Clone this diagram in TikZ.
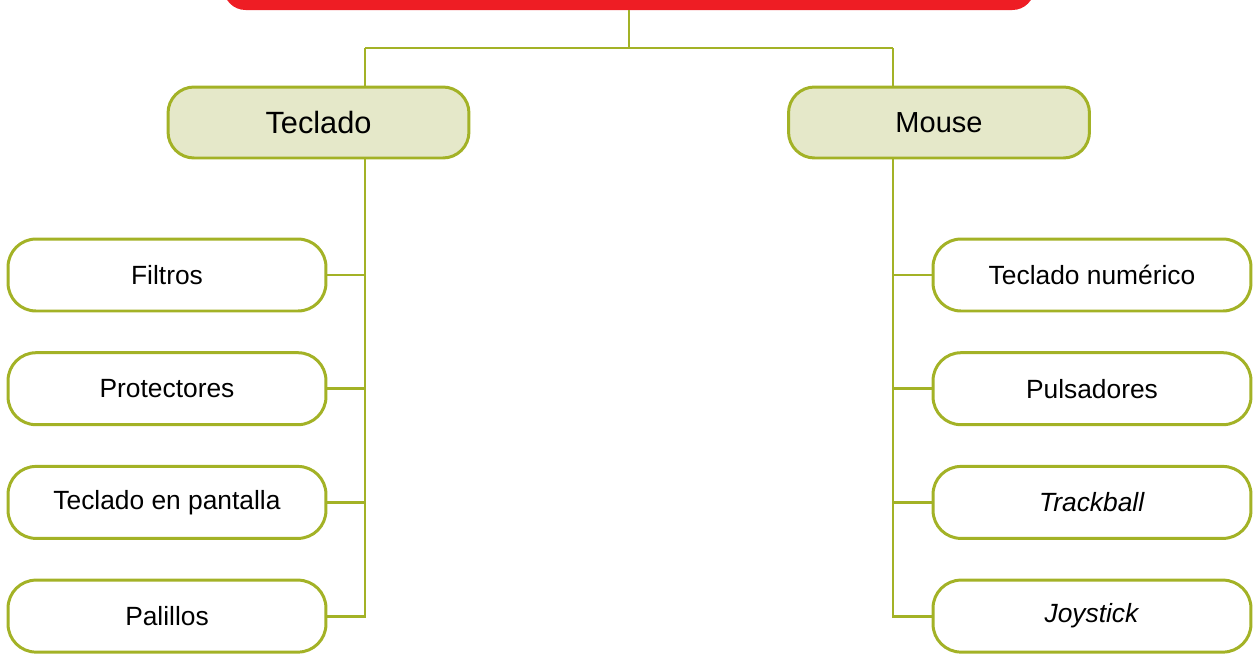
\documentclass[tikz,border=0pt]{standalone}
\usepackage{fontspec}
\setmainfont{Liberation Sans}
\definecolor{oliva}{RGB}{163,178,38}
\definecolor{olivaclaro}{RGB}{229,232,201}
\definecolor{rojo}{RGB}{238,29,36}
\tikzset{
	raiz/.style={draw=none, fill=rojo, rounded corners=0.44cm, minimum width=16.22cm, minimum height=1.44cm},
	rama/.style={draw=oliva, line width=1.7pt, fill=olivaclaro, rounded corners=0.52cm, minimum width=6.02cm, minimum height=1.42cm},
	hoja/.style={draw=oliva, line width=1.7pt, fill=white, rounded corners=0.56cm, minimum width=6.36cm, minimum height=1.44cm, font=\fontsize{15}{18}\selectfont},
	conector/.style={draw=oliva, line width=1.6pt}
}
\begin{document}
\begin{tikzpicture}[x=0.02cm, y=-0.02cm]
	\useasboundingbox (0,0) rectangle (1259,654);
	\clip (0,0) rectangle (1259,654);
	\node[raiz] (titulo) at (629,-26) {};
	\node[rama, font=\fontsize{17.5}{21}\selectfont] (teclado) at (318.5,122.5) {Teclado};
	\node[rama, font=\fontsize{16.5}{20}\selectfont] (mouse) at (939,122.5) {Mouse};
	\coordinate (ejeT) at (365,48);
	\coordinate (ejeM) at (893,48);
	\draw[conector] (titulo.south) -- (titulo.south |- ejeT);
	\draw[conector] (ejeT) -- (ejeM);
	\draw[conector] (ejeT) -- (ejeT |- teclado.north);
	\draw[conector] (ejeM) -- (ejeM |- mouse.north);
	\foreach \t [count=\i] in {Filtros, Protectores, Teclado en pantalla, Palillos}{
		\node[hoja] (izq\i) at (167,161.3+113.7*\i) {\t};
		\draw[conector] (ejeT |- teclado.south) |- (izq\i.east);
	}
	\foreach \t [count=\i] in {Teclado numérico, Pulsadores, \textit{Trackball}, \textit{Joystick}}{
		\node[hoja] (der\i) at (1092,161.3+113.7*\i) {\t};
		\draw[conector] (ejeM |- mouse.south) |- (der\i.west);
	}
\end{tikzpicture}
\end{document}
